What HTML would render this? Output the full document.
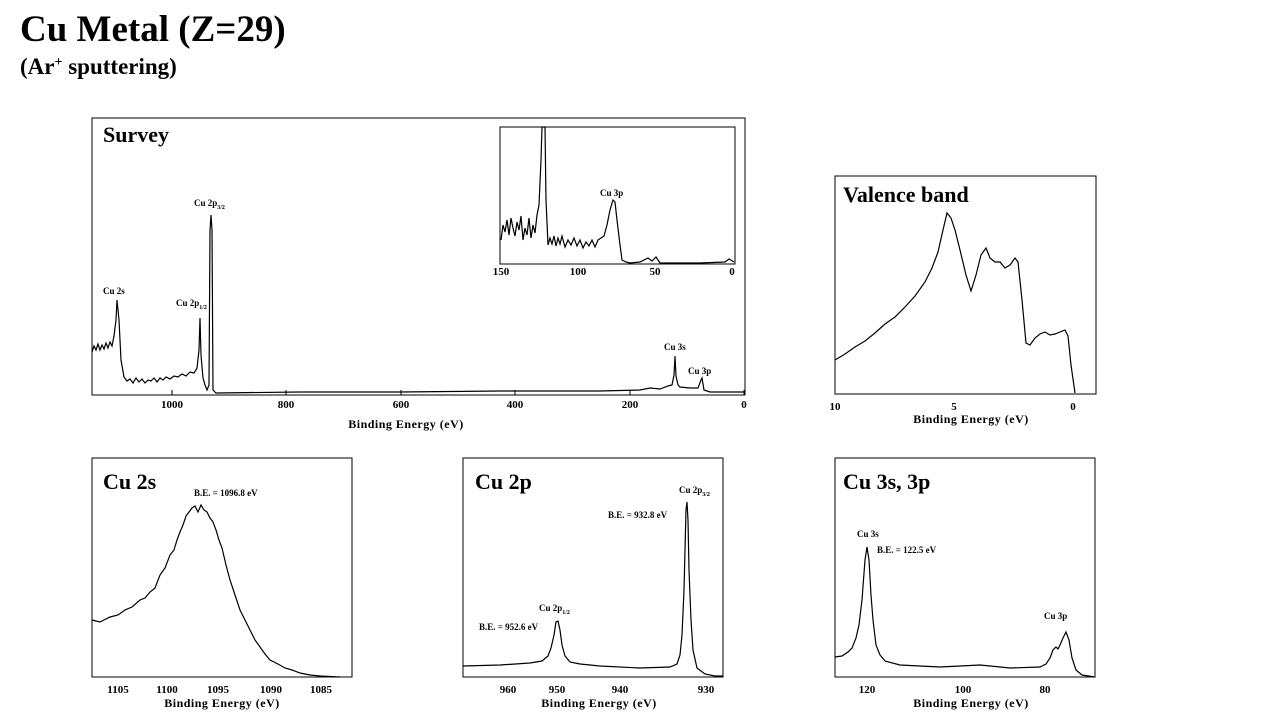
<!DOCTYPE html>
<html><head><meta charset="utf-8"><style>
body{margin:0;background:#fff;width:1280px;height:720px;overflow:hidden}
svg{position:absolute;left:0;top:0}
text{font-family:"Liberation Serif",serif;font-weight:bold;fill:#000}
.t{font-size:22px}.a{font-size:12px;letter-spacing:0.5px}.k{font-size:11px}.s{font-size:9px}.p{fill:none;stroke:#000;stroke-width:1.2}
</style></head><body>
<svg width="1280" height="720" xmlns="http://www.w3.org/2000/svg">
<text x="20" y="41" style="font-size:37px">Cu Metal (Z=29)</text>
<text x="20" y="74" style="font-size:23px">(Ar<tspan dy="-8" style="font-size:14px">+</tspan><tspan dy="8"> sputtering)</tspan></text>

<!-- Survey -->
<rect x="92" y="118" width="653" height="277" fill="none" stroke="#000"/>
<text class="t" x="103" y="142">Survey</text>
<polyline class="p" points="92,352 94,346 96,350 98,344 100,350 102,345 104,349 106,343 108,348 110,342 112,346 114,336 116,320 117,300 119,320 121,360 124,377 127,381 130,379 133,383 136,378 139,382 142,379 145,383 148,380 151,381 154,378 157,382 160,378 163,380 166,377 170,379 174,376 178,377 182,374 186,376 190,372 194,373 197,368 199,350 200,318 201,355 203,378 205,385 207,390 209,385 210,230 211,215 212,230 213,390 216,393 300,392 400,392 500,391 600,391 640,390 650,388 660,389 668,386 672,385 674,375 675,356 676,376 678,385 680,387 690,388 698,388 701,380 702,378 704,390 710,392 745,392"/>
<text class="s" x="103" y="294">Cu 2s</text>
<text class="s" x="194" y="206">Cu 2p<tspan dy="3" style="font-size:6px">3/2</tspan></text>
<text class="s" x="176" y="306">Cu 2p<tspan dy="3" style="font-size:6px">1/2</tspan></text>
<text class="s" x="664" y="350">Cu 3s</text>
<text class="s" x="688" y="374">Cu 3p</text>
<g stroke="#000">
<line x1="172" y1="395" x2="172" y2="390"/><line x1="286" y1="395" x2="286" y2="390"/><line x1="401" y1="395" x2="401" y2="390"/><line x1="515" y1="395" x2="515" y2="390"/><line x1="630" y1="395" x2="630" y2="390"/><line x1="744" y1="395" x2="744" y2="390"/>
</g>
<g class="k" text-anchor="middle">
<text x="172" y="408">1000</text><text x="286" y="408">800</text><text x="401" y="408">600</text><text x="515" y="408">400</text><text x="630" y="408">200</text><text x="744" y="408">0</text></g>
<text class="a" x="406" y="428" text-anchor="middle">Binding Energy (eV)</text>

<!-- inset -->
<rect x="500" y="127" width="235" height="137" fill="none" stroke="#000"/>
<polyline class="p" points="501,240 503,225 505,232 507,220 509,235 511,218 513,228 515,236 517,222 519,230 521,216 523,240 525,228 527,235 529,218 531,238 533,225 535,233 537,215 539,205 541,160 542,127 545,127 546,200 548,245 550,238 552,244 554,236 556,246 558,238 560,244 562,236 565,247 568,240 571,245 574,238 577,246 580,240 583,248 586,242 589,246 592,240 595,247 598,240 601,238 604,236 607,225 610,210 613,200 615,202 617,220 620,245 622,260 626,262 630,263 640,262 648,258 652,261 656,257 660,263 700,263 725,262 729,259 734,262"/>
<text class="s" x="600" y="196">Cu 3p</text>
<g class="k" text-anchor="middle"><text x="501" y="275">150</text><text x="578" y="275">100</text><text x="655" y="275">50</text><text x="732" y="275">0</text></g>

<!-- Valence band -->
<rect x="835" y="176" width="261" height="218" fill="none" stroke="#000"/>
<text class="t" x="843" y="202">Valence band</text>
<polyline class="p" points="835,360 845,354 855,347 865,341 875,333 885,324 895,317 905,307 915,296 925,282 932,268 938,252 943,230 947,213 951,218 955,230 960,250 966,275 971,291 976,275 981,255 986,248 990,258 995,262 1000,262 1005,268 1010,265 1015,258 1018,262 1022,300 1026,343 1030,345 1035,338 1040,334 1045,332 1050,335 1055,334 1060,332 1065,330 1068,336 1071,365 1075,393"/>
<g class="k" text-anchor="middle"><text x="835" y="410">10</text><text x="954" y="410">5</text><text x="1073" y="410">0</text></g>
<text class="a" x="971" y="423" text-anchor="middle">Binding Energy (eV)</text>

<!-- Cu 2s -->
<rect x="92" y="458" width="260" height="219" fill="none" stroke="#000"/>
<text class="t" x="103" y="489">Cu 2s</text>
<text class="s" x="194" y="496">B.E. = 1096.8 eV</text>
<polyline class="p" points="92,620 100,622 110,617 118,615 125,610 132,607 140,600 145,598 150,592 155,588 160,575 165,568 170,555 174,550 177,540 180,532 183,525 186,516 189,512 192,508 195,506 198,512 201,505 204,510 207,512 210,518 213,522 216,530 219,540 222,548 226,565 230,580 235,595 240,610 245,620 250,630 255,640 260,647 265,654 270,660 278,664 285,668 292,670 300,673 310,675 320,676 340,677"/>
<g class="k" text-anchor="middle"><text x="118" y="693">1105</text><text x="167" y="693">1100</text><text x="218" y="693">1095</text><text x="271" y="693">1090</text><text x="321" y="693">1085</text></g>
<text class="a" x="222" y="707" text-anchor="middle">Binding Energy (eV)</text>

<!-- Cu 2p -->
<rect x="463" y="458" width="260" height="219" fill="none" stroke="#000"/>
<text class="t" x="475" y="489">Cu 2p</text>
<text class="s" x="679" y="493">Cu 2p<tspan dy="3" style="font-size:6px">3/2</tspan></text>
<text class="s" x="608" y="518">B.E. = 932.8 eV</text>
<text class="s" x="539" y="611">Cu 2p<tspan dy="3" style="font-size:6px">1/2</tspan></text>
<text class="s" x="479" y="630">B.E. = 952.6 eV</text>
<polyline class="p" points="463,666 500,665 530,663 542,661 548,656 551,648 554,635 556,622 558,621 560,630 562,645 565,656 570,662 580,664 600,666 640,668 670,667 677,664 680,655 682,635 684,590 686,510 687,502 688,520 689,570 691,620 693,650 697,668 705,674 715,676 723,676"/>
<g class="k" text-anchor="middle"><text x="508" y="693">960</text><text x="557" y="693">950</text><text x="620" y="693">940</text><text x="706" y="693">930</text></g>
<text class="a" x="599" y="707" text-anchor="middle">Binding Energy (eV)</text>

<!-- Cu 3s 3p -->
<rect x="835" y="458" width="260" height="219" fill="none" stroke="#000"/>
<text class="t" x="843" y="489">Cu 3s, 3p</text>
<text class="s" x="857" y="537">Cu 3s</text>
<text class="s" x="877" y="553">B.E. = 122.5 eV</text>
<text class="s" x="1044" y="619">Cu 3p</text>
<polyline class="p" points="835,657 842,656 848,652 852,648 856,638 859,625 862,600 865,560 867,547 869,560 871,595 873,620 876,645 880,655 885,661 900,665 940,667 980,665 1010,668 1040,667 1046,664 1050,658 1053,650 1056,647 1058,649 1060,645 1063,638 1066,632 1069,640 1072,658 1076,670 1082,675 1095,677"/>
<g class="k" text-anchor="middle"><text x="867" y="693">120</text><text x="963" y="693">100</text><text x="1045" y="693">80</text></g>
<text class="a" x="971" y="707" text-anchor="middle">Binding Energy (eV)</text>
</svg>
</body></html>
